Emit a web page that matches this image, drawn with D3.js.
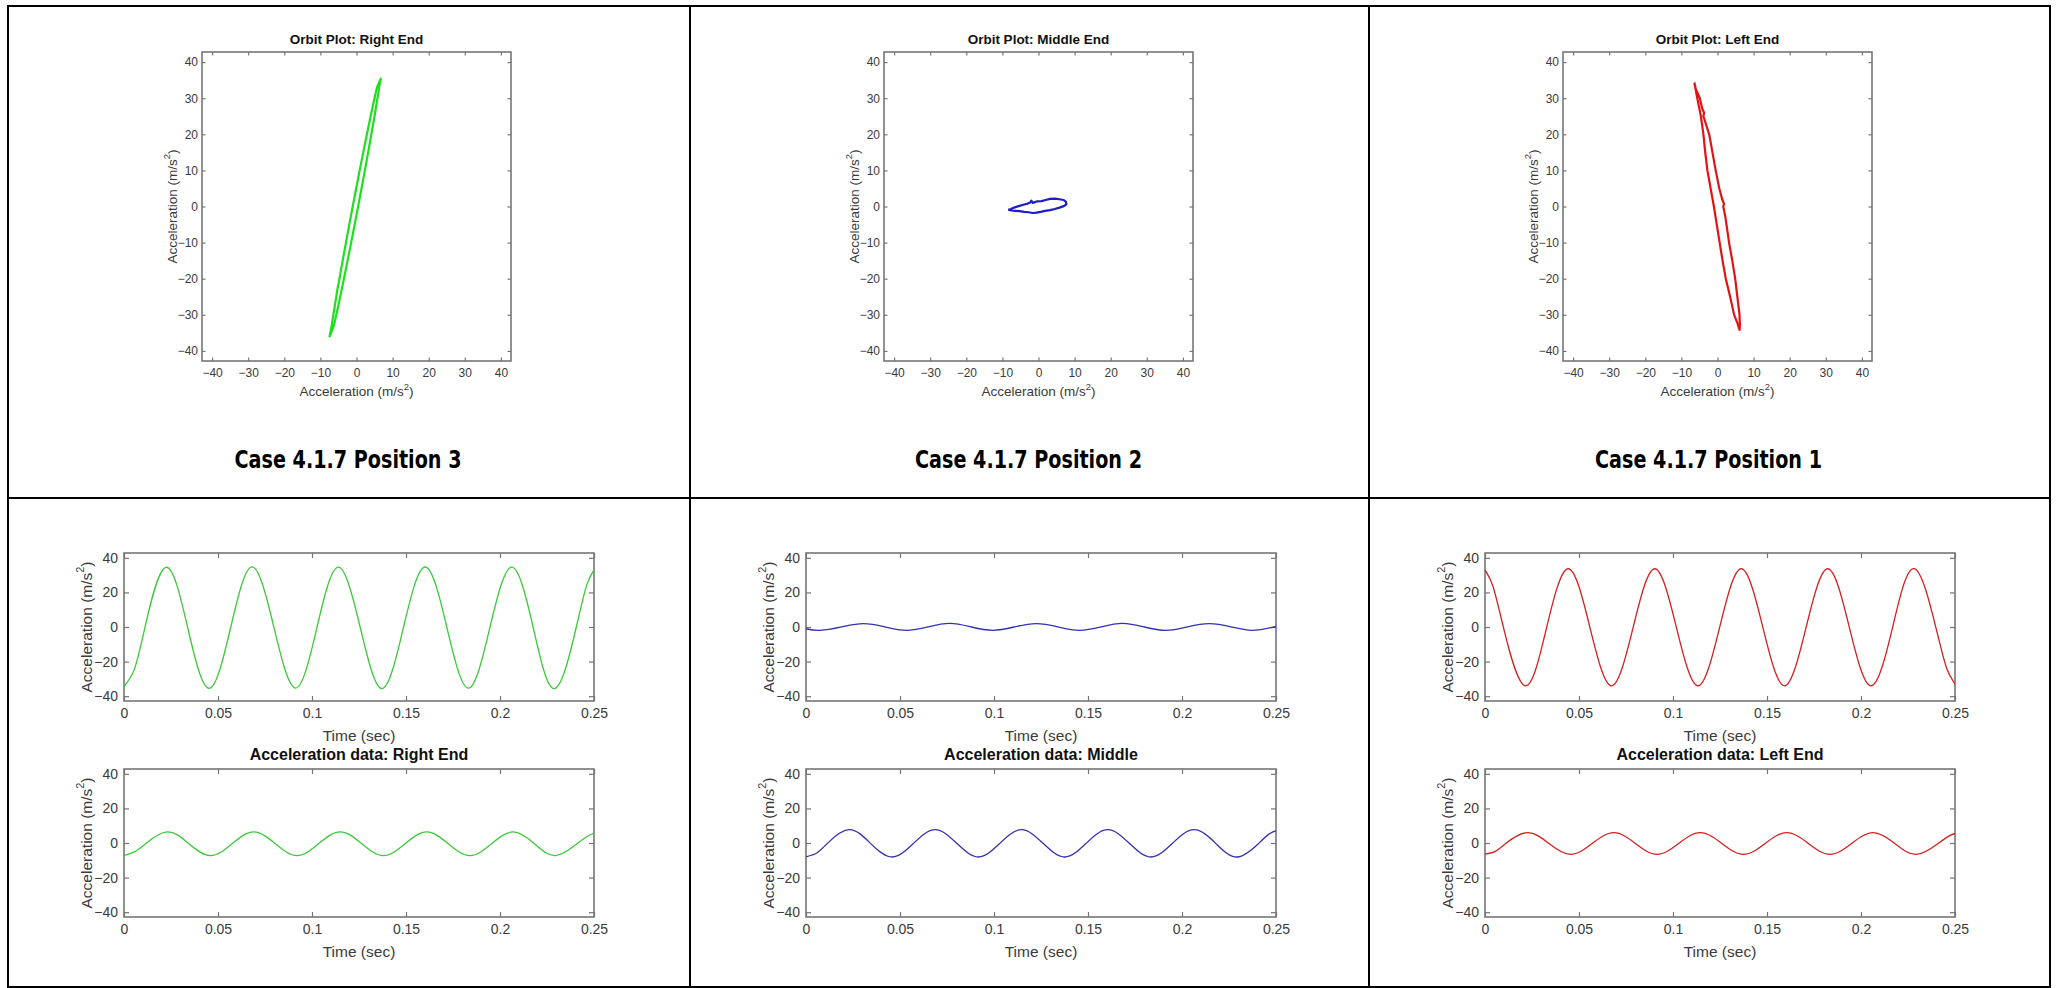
<!DOCTYPE html>
<html>
<head>
<meta charset="utf-8">
<script src="https://cdn.jsdelivr.net/npm/d3@7"></script>
<style>
  body { margin: 0; background: #fff; }
  svg { display: block; }
</style>
</head>
<body>
<svg id="chart" width="2060" height="988"></svg>
<script>
// ---- text / ticks ----
const orbitTitles = ['Orbit Plot: Right End', 'Orbit Plot: Middle End', 'Orbit Plot: Left End'];
const caseLabels = ['Case 4.1.7 Position 3', 'Case 4.1.7 Position 2', 'Case 4.1.7 Position 1'];
const dataTitles = ['Acceleration data: Right End', 'Acceleration data: Middle', 'Acceleration data: Left End'];
const orbitTicks = [-40, -30, -20, -10, 0, 10, 20, 30, 40];
const accTicks = [-40, -20, 0, 20, 40];
const timeTicks = [0, 0.05, 0.1, 0.15, 0.2, 0.25];
const timeTickLabels = ['0', '0.05', '0.1', '0.15', '0.2', '0.25'];

// ---- orbit loops [x, y] ----
const greenOrbit = [
  [-7.5, -36.2], [-6.27, -33], [-5.59, -30], [-4.51, -25], [-3.48, -20], [-2.47, -15],
  [-1.48, -10], [-0.51, -5], [0.45, 0], [1.39, 5], [2.32, 10], [3.23, 15], [4.12, 20],
  [4.99, 25], [5.81, 30], [6.27, 33], [6.7, 35.4], [5.67, 33], [4.99, 30], [3.91, 25],
  [2.88, 20], [1.87, 15], [0.88, 10], [-0.09, 5], [-1.05, 0], [-1.99, -5], [-2.92, -10],
  [-3.83, -15], [-4.72, -20], [-5.3, -23], [-5.59, -25], [-6.41, -30], [-6.87, -33], [-7.5, -36.2]
];
const blueOrbit = [
  [-8.4, -0.9], [-7.6, -0.7], [-6.8, -0.3], [-5.5, 0.1], [-4.2, 0.5], [-3.0, 0.8], [-2.3, 1.1],
  [-2.0, 1.6], [-1.6, 1.0], [-0.5, 1.4], [0.8, 1.5], [2.0, 1.8], [3.2, 2.1], [4.5, 2.2],
  [5.8, 2.0], [7.0, 1.8], [7.6, 1.3], [7.7, 0.6], [7.0, 0.1], [5.8, -0.3], [4.5, -0.7],
  [3.2, -1.0], [1.8, -1.2], [0.6, -1.5], [-0.6, -1.7], [-1.6, -1.8], [-2.8, -1.6],
  [-4.0, -1.5], [-5.2, -1.3], [-6.4, -1.2], [-7.5, -1.1], [-8.4, -0.9]
];
const redOrbit = [
  [-6.4, 34.3], [-6.0, 32.5], [-4.9, 30], [-4.2, 27], [-3.7, 26], [-3.9, 25], [-3.1, 22.5],
  [-2.3, 20], [-1.4, 15], [-0.5, 10], [0.5, 5], [1.3, 2], [1.8, 0.8], [1.6, 0], [2.2, -3],
  [3.2, -10], [4.1, -15], [4.9, -20], [5.5, -25], [6.1, -30], [6.2, -33], [6.1, -34.2],
  [5.6, -32.5], [4.6, -30], [3.5, -25], [2.3, -20], [1.4, -15], [0.6, -10], [-0.2, -5],
  [-1.0, 0], [-1.9, 5], [-2.8, 10], [-3.4, 15], [-3.9, 20], [-4.6, 25], [-5.6, 30], [-6.4, 34.3]
];

// ---- time series [t, acceleration] ----
const greenTop = [
  [0, -34.5], [0.0055, -24.5], [0.0112, 0], [0.0222, 34.5], [0.0338, 0], [0.0453, -35.5],
  [0.0568, 0], [0.0681, 34.8], [0.0797, 0], [0.0913, -35.3], [0.1027, 0], [0.114, 34.6],
  [0.1256, 0], [0.1372, -35.6], [0.1487, 0], [0.1602, 34.7], [0.1717, 0], [0.1832, -35.4],
  [0.1947, 0], [0.2062, 34.6], [0.2176, 0], [0.2291, -35.6], [0.2406, 0], [0.2462, 24.5], [0.25, 33]
];
const greenBottom = [
  [0, -7.2], [0.0058, -5.0], [0.0115, -0.4], [0.023, 6.4], [0.0345, -0.4], [0.046, -7.3],
  [0.0575, -0.4], [0.069, 6.4], [0.0805, -0.4], [0.092, -7.3], [0.1035, -0.4], [0.115, 6.4],
  [0.1265, -0.4], [0.138, -7.3], [0.1495, -0.4], [0.161, 6.4], [0.1725, -0.4], [0.184, -7.3],
  [0.1955, -0.4], [0.207, 6.4], [0.2183, -0.4], [0.2295, -7.3], [0.241, -0.4], [0.247, 4.2], [0.25, 5.8]
];
const blueTop = [
  [0, -1.0], [0.0075, -1.9], [0.019, 0.1], [0.0305, 2.0], [0.042, 0.1], [0.0535, -1.9],
  [0.065, 0.1], [0.0765, 2.1], [0.088, 0.0], [0.0995, -1.9], [0.111, 0.1], [0.1225, 2.0],
  [0.134, 0.1], [0.1455, -1.9], [0.157, 0.1], [0.1685, 2.1], [0.18, 0.0], [0.1915, -2.0],
  [0.203, 0.1], [0.2145, 2.0], [0.226, 0.1], [0.2375, -1.9], [0.25, 0.3]
];
const blueBottom = [
  [0, -8.0], [0.0057, -5.8], [0.0114, -0.2], [0.0228, 7.7], [0.0343, -0.2], [0.0458, -8.1],
  [0.0572, -0.2], [0.0687, 7.7], [0.0802, -0.2], [0.0917, -8.1], [0.1031, -0.2], [0.1146, 7.7],
  [0.1261, -0.2], [0.1376, -8.1], [0.149, -0.2], [0.1605, 7.7], [0.172, -0.2], [0.1835, -8.1],
  [0.1949, -0.2], [0.2064, 7.7], [0.2179, -0.2], [0.2294, -8.1], [0.2408, -0.2], [0.2466, 5.4], [0.25, 7.0]
];
const redTop = [
  [0, 33], [0.0041, 24], [0.0098, -0.2], [0.0213, -34], [0.0328, -0.2], [0.0443, 33.7],
  [0.0558, -0.2], [0.0673, -34], [0.0788, -0.2], [0.0903, 33.7], [0.1018, -0.2], [0.1133, -34],
  [0.1248, -0.2], [0.1363, 33.7], [0.1478, -0.2], [0.1593, -34], [0.1708, -0.2], [0.1823, 33.7],
  [0.1938, -0.2], [0.2053, -34], [0.2168, -0.2], [0.2283, 33.7], [0.2398, -0.2], [0.2456, -24], [0.25, -33]
];
const redBottom = [
  [0, -6.4], [0.0055, -4.8], [0.011, -0.3], [0.0225, 6.0], [0.034, -0.3], [0.0455, -6.6],
  [0.057, -0.3], [0.0685, 6.0], [0.08, -0.3], [0.0915, -6.6], [0.103, -0.3], [0.1145, 6.0],
  [0.126, -0.3], [0.1375, -6.6], [0.149, -0.3], [0.1605, 6.0], [0.172, -0.3], [0.1835, -6.6],
  [0.195, -0.3], [0.2065, 6.0], [0.218, -0.3], [0.2295, -6.6], [0.241, -0.3], [0.2467, 4.0], [0.25, 5.5]
];

const columns = [
  { orbit: greenOrbit, top: greenTop, bottom: greenBottom, orbitColour: '#1ee01e', lineColour: '#3cc83c' },
  { orbit: blueOrbit, top: blueTop, bottom: blueBottom, orbitColour: '#1c1cc8', lineColour: '#3232b0' },
  { orbit: redOrbit, top: redTop, bottom: redBottom, orbitColour: '#e01414', lineColour: '#d42020' },
];

// ---- layout ----
const font = '"Liberation Sans", Arial, Helvetica, sans-serif';
const axisGrey = '#767676';
const textGrey = '#3a3a3a';
const cellEdges = [8, 690, 1369, 2050];
const rowEdges = [6, 498, 987];
const limit = 42.8;

const svg = d3.select('#chart');
svg.append('rect').attr('width', 2060).attr('height', 988).attr('fill', '#fff');
const defs = svg.append('defs');

// x/y axes with inside ticks on all four sides, like the matlab box
function drawFrame(g, x, y, opt) {
  const [x0, x1] = x.range();
  const [yb, yt] = y.range();

  const styleAxis = (a) => {
    a.attr('font-family', font).attr('font-size', opt.tickFont);
    a.select('.domain').remove();
    a.selectAll('line').attr('stroke', axisGrey).attr('stroke-width', 1.2);
    a.selectAll('text').attr('fill', textGrey);
  };

  g.append('g')
    .attr('transform', `translate(0,${yb})`)
    .call(d3.axisBottom(x).tickValues(opt.xTicks).tickSize(-opt.tick).tickPadding(opt.xPad).tickFormat(opt.xFormat))
    .call(styleAxis);
  g.append('g')
    .attr('transform', `translate(0,${yt})`)
    .call(d3.axisTop(x).tickValues(opt.xTicks).tickSize(-opt.tick).tickFormat(() => ''))
    .call(styleAxis);
  g.append('g')
    .attr('transform', `translate(${x0},0)`)
    .call(d3.axisLeft(y).tickValues(opt.yTicks).tickSize(-opt.tick).tickPadding(opt.yPad).tickFormat(d3.format('d')))
    .call(styleAxis);
  g.append('g')
    .attr('transform', `translate(${x1},0)`)
    .call(d3.axisRight(y).tickValues(opt.yTicks).tickSize(-opt.tick).tickFormat(() => ''))
    .call(styleAxis);

  g.append('rect')
    .attr('x', x0).attr('y', yt)
    .attr('width', x1 - x0).attr('height', yb - yt)
    .attr('fill', 'none').attr('stroke', axisGrey).attr('stroke-width', 1.6);
}

function accLabel(text, size) {
  text.append('tspan').text('Acceleration (m/s');
  text.append('tspan').attr('font-size', size * 0.7).attr('dy', -size * 0.42).text('2');
  text.append('tspan').attr('dy', size * 0.42).text(')');
}

function clipFor(id, x, y) {
  defs.append('clipPath').attr('id', id).append('rect')
    .attr('x', x.range()[0]).attr('y', y.range()[1])
    .attr('width', x.range()[1] - x.range()[0])
    .attr('height', y.range()[0] - y.range()[1]);
  return `url(#${id})`;
}

// table grid
const grid = svg.append('g').attr('stroke', '#000').attr('stroke-width', 2);
cellEdges.forEach((cx) => {
  grid.append('line').attr('x1', cx).attr('x2', cx).attr('y1', rowEdges[0] - 1).attr('y2', rowEdges[2] + 1);
});
rowEdges.forEach((cy) => {
  grid.append('line').attr('x1', cellEdges[0] - 1).attr('x2', cellEdges[3] + 1).attr('y1', cy).attr('y2', cy);
});

columns.forEach((col, i) => {
  const cellLeft = cellEdges[i];
  const cellMid = (cellEdges[i] + cellEdges[i + 1]) / 2;
  const g = svg.append('g');

  // ---- orbit plot ----
  const oLeft = cellLeft + 194, oTop = 52, oSize = 309;
  const ox = d3.scaleLinear().domain([-limit, limit]).range([oLeft, oLeft + oSize]);
  const oy = d3.scaleLinear().domain([-limit, limit]).range([oTop + oSize, oTop]);

  drawFrame(g, ox, oy, {
    xTicks: orbitTicks, yTicks: orbitTicks, tick: 3.5, tickFont: 12,
    xPad: 7, yPad: 4, xFormat: d3.format('d'),
  });

  g.append('path')
    .datum(col.orbit)
    .attr('clip-path', clipFor(`orbit${i}`, ox, oy))
    .attr('fill', 'none')
    .attr('stroke', col.orbitColour)
    .attr('stroke-width', 2.2)
    .attr('stroke-linejoin', 'round')
    .attr('d', d3.line().x((d) => ox(d[0])).y((d) => oy(d[1])));

  g.append('text')
    .attr('x', oLeft + oSize / 2).attr('y', oTop - 8)
    .attr('text-anchor', 'middle')
    .attr('font-family', font).attr('font-size', 13.5).attr('font-weight', 'bold')
    .attr('fill', '#111')
    .text(orbitTitles[i]);

  g.append('text')
    .attr('x', oLeft + oSize / 2).attr('y', oTop + oSize + 35)
    .attr('text-anchor', 'middle')
    .attr('font-family', font).attr('font-size', 13.5).attr('fill', textGrey)
    .call(accLabel, 13.5);

  g.append('text')
    .attr('transform', `translate(${oLeft - 30},${oTop + oSize / 2}) rotate(-90)`)
    .attr('text-anchor', 'middle').attr('dominant-baseline', 'central')
    .attr('font-family', font).attr('font-size', 13.5).attr('fill', textGrey)
    .call(accLabel, 13.5);

  g.append('text')
    .attr('x', cellMid - 1).attr('y', 468)
    .attr('text-anchor', 'middle')
    .attr('font-family', '"Liberation Sans Narrow", "DejaVu Sans Condensed", "Liberation Sans", sans-serif')
    .attr('font-size', 25).attr('font-weight', 'bold').attr('fill', '#000')
    .attr('textLength', 227).attr('lengthAdjust', 'spacingAndGlyphs')
    .text(caseLabels[i]);

  // ---- time series pair ----
  const tLeft = cellLeft + 116, tWidth = 470, tHeight = 148;
  const panels = [
    { top: 553, data: col.top, title: null },
    { top: 769, data: col.bottom, title: dataTitles[i] },
  ];

  panels.forEach((p, j) => {
    const tx = d3.scaleLinear().domain([0, 0.25]).range([tLeft, tLeft + tWidth]);
    const ty = d3.scaleLinear().domain([-limit, limit]).range([p.top + tHeight, p.top]);

    drawFrame(g, tx, ty, {
      xTicks: timeTicks, yTicks: accTicks, tick: 5, tickFont: 14,
      xPad: 7, yPad: 6, xFormat: (d, k) => timeTickLabels[k],
    });

    g.append('path')
      .datum(p.data)
      .attr('clip-path', clipFor(`ts${i}_${j}`, tx, ty))
      .attr('fill', 'none')
      .attr('stroke', col.lineColour)
      .attr('stroke-width', 1.3)
      .attr('d', d3.line().x((d) => tx(d[0])).y((d) => ty(d[1])).curve(d3.curveNatural));

    g.append('text')
      .attr('x', tLeft + tWidth / 2).attr('y', p.top + tHeight + 40)
      .attr('text-anchor', 'middle')
      .attr('font-family', font).attr('font-size', 15.5).attr('fill', textGrey)
      .text('Time (sec)');

    g.append('text')
      .attr('transform', `translate(${tLeft - 38},${p.top + tHeight / 2}) rotate(-90)`)
      .attr('text-anchor', 'middle').attr('dominant-baseline', 'central')
      .attr('font-family', font).attr('font-size', 15.5).attr('fill', textGrey)
      .call(accLabel, 15.5);

    if (p.title) {
      g.append('text')
        .attr('x', tLeft + tWidth / 2).attr('y', p.top - 9)
        .attr('text-anchor', 'middle')
        .attr('font-family', font).attr('font-size', 16).attr('font-weight', 'bold')
        .attr('fill', '#111')
        .text(p.title);
    }
  });
});
</script>
</body>
</html>
